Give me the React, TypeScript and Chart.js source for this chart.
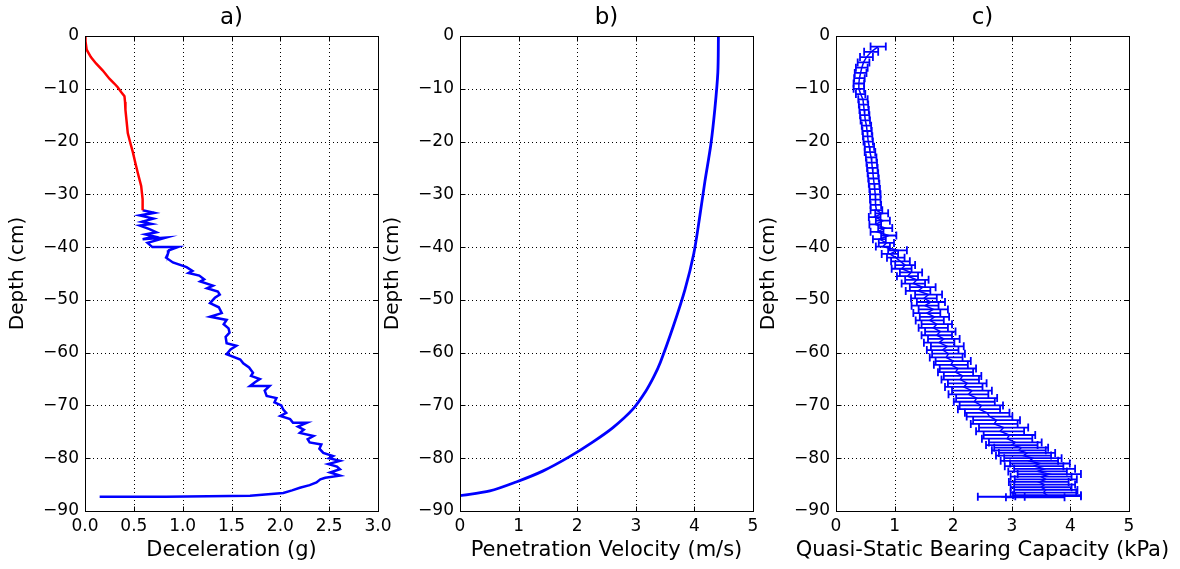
import React, { useEffect, useRef } from 'react';
import { Chart, registerables } from 'chart.js';

Chart.register(...registerables);

const FONT = '"DejaVu Sans", "Liberation Sans", sans-serif';
Chart.defaults.font.family = FONT;

// ---------- Panel a) Deceleration ----------
const aRedDepth = [0, -1, -2.6, -4, -5.2, -6.5, -8.1, -9.0, -9.7, -10.6, -11.4, -12.5, -14, -16, -18.4, -20, -22, -24, -25.9, -28.4, -30.9, -33.0];
const aRedDecel = [0, 0.005, 0.017, 0.06, 0.113, 0.18, 0.25, 0.3, 0.335, 0.37, 0.404, 0.41, 0.414, 0.425, 0.438, 0.46, 0.49, 0.515, 0.54, 0.575, 0.59, 0.59];

const aBlueDepth = [
  -33.0, -33.5, -34.0, -34.6, -35.2, -35.6, -35.9, -36.6, -37.2, -37.6,
  -38.0, -38.5, -38.2, -39.2, -40.0, -40.0, -40.6, -41.2, -42.0, -42.9,
  -43.8, -44.5, -44.9, -45.4, -46.1, -46.5, -47.3, -47.8, -48.4, -49.0,
  -49.6, -50.6, -51.4, -52.5, -53.2, -53.8, -54.6, -55.4, -56.2, -57.0,
  -58.2, -58.7, -59.4, -60.3, -61.3, -62.0, -62.8, -63.8, -64.4, -65.0,
  -65.6, -66.3, -66.3, -67.2, -68.2, -68.6, -69.4, -70.0, -70.8, -71.4,
  -72.0, -72.6, -73.3, -73.3, -74.0, -74.6, -75.2, -75.8, -76.4, -77.0,
  -77.4, -78.2, -79.0, -79.6, -80.0, -80.5, -81.1, -81.6, -82.1, -82.7,
  -83.3, -83.7, -84.0, -84.6, -85.1, -85.6, -86.1, -86.6, -87.1, -87.3,
  -87.3,
];
const aBlueDecel = [
  0.59, 0.71, 0.56, 0.70, 0.58, 0.68, 0.56, 0.66, 0.73, 0.62,
  0.71, 0.59, 0.83, 0.64, 0.69, 0.95, 0.86, 0.85, 0.83, 0.90,
  1.04, 1.10, 1.06, 1.17, 1.22, 1.18, 1.31, 1.25, 1.36, 1.38,
  1.33, 1.28, 1.37, 1.40, 1.28, 1.45, 1.42, 1.47, 1.48, 1.44,
  1.45, 1.55, 1.49, 1.45, 1.59, 1.62, 1.68, 1.72, 1.70, 1.79,
  1.74, 1.69, 1.89, 1.84, 1.86, 1.96, 1.94, 2.01, 2.03, 2.06,
  2.00, 2.10, 2.13, 2.27, 2.18, 2.24, 2.20, 2.34, 2.28, 2.30,
  2.42, 2.40, 2.44, 2.54, 2.50, 2.61, 2.49, 2.58, 2.61, 2.51,
  2.61, 2.46, 2.41, 2.37, 2.30, 2.20, 2.12, 2.03, 1.69, 0.83,
  0.15,
];

// ---------- Panel b) Penetration velocity ----------
const bDepth = [0, -6.9, -13.7, -20.6, -27.5, -34.3, -41.2, -48, -55, -61.8, -64.5, -67.3, -70.7, -74.2, -76.9, -79.7, -82.4, -84.5, -86.2, -87.1];
const bVelocity = [4.41, 4.40, 4.35, 4.28, 4.18, 4.09, 3.99, 3.84, 3.64, 3.42, 3.31, 3.17, 2.95, 2.61, 2.27, 1.87, 1.42, 0.96, 0.51, 0];

// ---------- Panel c) Quasi-static bearing capacity (with x error) ----------
const cDepth = [
  -2, -3, -4, -5, -6, -7, -8, -9, -10, -11, -12, -13, -14, -15, -16, -17, -18, -19, -20, -21,
  -22, -23, -24, -25, -26, -27, -28, -29, -30, -31, -32, -33,
  -33.6, -34.3, -35.0, -35.7, -36.4, -37.1, -37.8, -38.5, -39.2, -39.9,
  -40.6, -41.3, -42.0, -42.7, -43.4, -44.1, -44.8, -45.5, -46.2, -46.9,
  -47.6, -48.3, -49.0, -49.7, -50.4, -51.1, -51.8, -52.5, -53.2, -53.9,
  -54.6, -55.3, -56.0, -56.7, -57.4, -58.1, -58.8, -59.5, -60.2, -60.9,
  -61.6, -62.3, -63.0, -63.7, -64.4, -65.1, -65.8, -66.5, -67.2, -67.9,
  -68.6, -69.3, -70.0, -70.7, -71.4, -72.1, -72.8, -73.5, -74.2, -74.9,
  -75.6, -76.3, -77.0, -77.5, -78.0, -78.5, -79.0, -79.5, -80.0, -80.5,
  -81.0, -81.5, -82.0, -82.5, -83.0, -83.5, -84.0, -84.5, -85.0, -85.5,
  -86.0, -86.5, -87.0, -87.2, -87.3, -87.4,
];
const cBearing = [
  0.72, 0.60, 0.52, 0.47, 0.44, 0.42, 0.40, 0.39, 0.39, 0.42, 0.46, 0.47, 0.48, 0.49, 0.50, 0.52, 0.53, 0.54, 0.55, 0.57,
  0.58, 0.60, 0.61, 0.62, 0.63, 0.64, 0.65, 0.66, 0.67, 0.67, 0.68, 0.69,
  0.78, 0.66, 0.80, 0.67, 0.84, 0.70, 0.90, 0.74, 0.86, 0.80,
  1.05, 0.92, 1.02, 1.10, 1.18, 1.12, 1.28, 1.22, 1.38, 1.32,
  1.48, 1.40, 1.58, 1.50, 1.62, 1.52, 1.66, 1.55, 1.68, 1.60,
  1.72, 1.66, 1.78, 1.72, 1.84, 1.76, 1.90, 1.82, 1.92, 1.88,
  2.00, 1.96, 2.08, 2.04, 2.16, 2.12, 2.24, 2.18, 2.32, 2.26,
  2.40, 2.36, 2.48, 2.44, 2.58, 2.62, 2.74, 2.70, 2.86, 2.80,
  2.96, 2.92, 3.06, 3.00, 3.16, 3.12, 3.26, 3.20, 3.36, 3.30,
  3.48, 3.38, 3.56, 3.44, 3.64, 3.50, 3.58, 3.46, 3.56, 3.50,
  3.58, 3.54, 3.60, 3.62, 2.82, 3.40,
];
const cError = [
  0.13, 0.12, 0.11, 0.10, 0.10, 0.10, 0.09, 0.09, 0.09, 0.08, 0.08, 0.08, 0.08, 0.08, 0.08, 0.08, 0.08, 0.08, 0.08, 0.08,
  0.09, 0.09, 0.09, 0.09, 0.09, 0.09, 0.09, 0.09, 0.09, 0.09, 0.09, 0.10,
  0.11, 0.10, 0.12, 0.10, 0.12, 0.11, 0.13, 0.11, 0.13, 0.12,
  0.16, 0.14, 0.15, 0.16, 0.17, 0.17, 0.19, 0.18, 0.20, 0.20,
  0.22, 0.21, 0.23, 0.22, 0.24, 0.23, 0.25, 0.23, 0.25, 0.24,
  0.26, 0.25, 0.26, 0.26, 0.27, 0.26, 0.28, 0.27, 0.28, 0.28,
  0.30, 0.29, 0.31, 0.30, 0.32, 0.32, 0.33, 0.32, 0.34, 0.34,
  0.35, 0.35, 0.37, 0.36, 0.38, 0.39, 0.40, 0.40, 0.42, 0.41,
  0.44, 0.43, 0.45, 0.44, 0.46, 0.46, 0.48, 0.47, 0.49, 0.49,
  0.51, 0.50, 0.52, 0.50, 0.54, 0.52, 0.53, 0.51, 0.52, 0.52,
  0.54, 0.56, 0.58, 0.56, 0.40, 0.50,
];

const depthTicks = { min: -90, max: 0, step: 10 };

const fmtDepth = (v: number) => (v < 0 ? '\u2212' + Math.abs(v) : String(v));

const toPts = (xs: number[], ys: number[]) => xs.map((x, i) => ({ x, y: ys[i] }));

const mplPlugin = {
  id: 'mpl',
  beforeDatasetsDraw(chart: any) {
    const { ctx, chartArea: a, scales } = chart;
    ctx.save();
    ctx.strokeStyle = '#000';
    ctx.lineWidth = 1;
    ctx.setLineDash([1, 3]);
    scales.x.ticks.forEach((t: any) => {
      const px = Math.round(scales.x.getPixelForValue(t.value)) + 0.5;
      ctx.beginPath();
      ctx.moveTo(px, a.top);
      ctx.lineTo(px, a.bottom);
      ctx.stroke();
    });
    scales.y.ticks.forEach((t: any) => {
      const py = Math.round(scales.y.getPixelForValue(t.value)) + 0.5;
      ctx.beginPath();
      ctx.moveTo(a.left, py);
      ctx.lineTo(a.right, py);
      ctx.stroke();
    });
    ctx.restore();
  },
  afterDatasetsDraw(chart: any, _args: any, opts: any) {
    const { ctx, chartArea: a, scales } = chart;
    // error bars
    chart.data.datasets.forEach((ds: any) => {
      if (!ds.errs) return;
      ctx.save();
      ctx.strokeStyle = ds.borderColor;
      ctx.lineWidth = 1.8;
      ds.data.forEach((p: any, i: number) => {
        const e = ds.errs[i];
        const x1 = scales.x.getPixelForValue(p.x - e);
        const x2 = scales.x.getPixelForValue(p.x + e);
        const y = scales.y.getPixelForValue(p.y);
        ctx.beginPath();
        ctx.moveTo(x1, y);
        ctx.lineTo(x2, y);
        ctx.moveTo(x1, y - 4);
        ctx.lineTo(x1, y + 4);
        ctx.moveTo(x2, y - 4);
        ctx.lineTo(x2, y + 4);
        ctx.stroke();
      });
      ctx.restore();
    });
    // frame and inward ticks
    ctx.save();
    ctx.strokeStyle = '#000';
    ctx.lineWidth = 1;
    const L = Math.round(a.left) + 0.5;
    const R = Math.round(a.right) + 0.5;
    const T = Math.round(a.top) + 0.5;
    const B = Math.round(a.bottom) + 0.5;
    ctx.strokeRect(L, T, R - L, B - T);
    ctx.beginPath();
    scales.x.ticks.forEach((t: any) => {
      const px = Math.round(scales.x.getPixelForValue(t.value)) + 0.5;
      ctx.moveTo(px, B);
      ctx.lineTo(px, B - 5);
      ctx.moveTo(px, T);
      ctx.lineTo(px, T + 5);
    });
    scales.y.ticks.forEach((t: any) => {
      const py = Math.round(scales.y.getPixelForValue(t.value)) + 0.5;
      ctx.moveTo(L, py);
      ctx.lineTo(L + 5, py);
      ctx.moveTo(R, py);
      ctx.lineTo(R - 5, py);
    });
    ctx.stroke();
    // titles
    ctx.fillStyle = '#000';
    ctx.textAlign = 'center';
    ctx.textBaseline = 'middle';
    const cx = (a.left + a.right) / 2;
    const cy = (a.top + a.bottom) / 2;
    ctx.font = `23px ${FONT}`;
    ctx.fillText(opts.title, cx, 18);
    ctx.font = `21px ${FONT}`;
    ctx.fillText(opts.xTitle, cx, 551);
    ctx.font = `20px ${FONT}`;
    ctx.translate(a.left - 67, cy);
    ctx.rotate(-Math.PI / 2);
    ctx.fillText(opts.yTitle, 0, 0);
    ctx.restore();
  },
};

function makeConfig(p: {
  datasets: any[];
  xMin: number;
  xMax: number;
  xStep: number;
  xFmt: (v: number) => string;
  padRight: number;
  title: string;
  xTitle: string;
  yTitle: string;
}): any {
  const tickFont = { size: 17, family: FONT };
  return {
    type: 'scatter',
    data: { datasets: p.datasets },
    plugins: [mplPlugin],
    options: {
      animation: false,
      responsive: false,
      devicePixelRatio: 1,
      layout: { padding: { left: 0, right: p.padRight, top: 36, bottom: 0 } },
      plugins: {
        legend: { display: false },
        tooltip: { enabled: false },
        mpl: { title: p.title, xTitle: p.xTitle, yTitle: p.yTitle },
      },
      scales: {
        x: {
          type: 'linear',
          position: 'bottom',
          min: p.xMin,
          max: p.xMax,
          grid: { display: false, drawTicks: false },
          border: { display: false },
          ticks: {
            stepSize: p.xStep,
            autoSkip: false,
            maxRotation: 0,
            padding: 5,
            color: '#000',
            font: tickFont,
            callback: (v: any) => p.xFmt(Number(v)),
          },
          afterFit: (s: any) => {
            s.height = 58;
          },
        },
        y: {
          type: 'linear',
          position: 'left',
          min: depthTicks.min,
          max: depthTicks.max,
          grid: { display: false, drawTicks: false },
          border: { display: false },
          ticks: {
            stepSize: depthTicks.step,
            autoSkip: false,
            padding: 6,
            color: '#000',
            font: tickFont,
            callback: (v: any) => fmtDepth(Number(v)),
          },
          afterFit: (s: any) => {
            s.width = 84;
          },
        },
      },
    },
  };
}

export default function App() {
  const refA = useRef<HTMLCanvasElement>(null);
  const refB = useRef<HTMLCanvasElement>(null);
  const refC = useRef<HTMLCanvasElement>(null);

  useEffect(() => {
    const charts: Chart[] = [];
    const lineDs = (data: any[], color: string, width: number, extra: any = {}) => ({
      data,
      showLine: true,
      borderColor: color,
      backgroundColor: color,
      borderWidth: width,
      pointRadius: 0,
      pointHoverRadius: 0,
      ...extra,
    });

    charts.push(
      new Chart(
        refA.current!,
        makeConfig({
          datasets: [
            lineDs(toPts(aRedDecel, aRedDepth), '#ff0000', 2.5),
            lineDs(toPts(aBlueDecel, aBlueDepth), '#0000ff', 2.5),
          ],
          xMin: 0,
          xMax: 3,
          xStep: 0.5,
          xFmt: (v) => v.toFixed(1),
          padRight: 20,
          title: 'a)',
          xTitle: 'Deceleration (g)',
          yTitle: 'Depth (cm)',
        })
      )
    );
    charts.push(
      new Chart(
        refB.current!,
        makeConfig({
          datasets: [lineDs(toPts(bVelocity, bDepth), '#0000ff', 2.8, { tension: 0.3 })],
          xMin: 0,
          xMax: 5,
          xStep: 1,
          xFmt: (v) => String(v),
          padRight: 20,
          title: 'b)',
          xTitle: 'Penetration Velocity (m/s)',
          yTitle: 'Depth (cm)',
        })
      )
    );
    charts.push(
      new Chart(
        refC.current!,
        makeConfig({
          datasets: [lineDs(toPts(cBearing, cDepth), '#0000ff', 1.5, { errs: cError })],
          xMin: 0,
          xMax: 5,
          xStep: 1,
          xFmt: (v) => String(v),
          padRight: 51,
          title: 'c)',
          xTitle: 'Quasi-Static Bearing Capacity (kPa)',
          yTitle: 'Depth (cm)',
        })
      )
    );
    return () => charts.forEach((c) => c.destroy());
  }, []);

  const cs = (left: number): React.CSSProperties => ({ position: 'absolute', left, top: 0 });

  return (
    <div
      style={{
        position: 'absolute',
        left: 0,
        top: 0,
        width: 1180,
        height: 569,
        background: '#fff',
        overflow: 'hidden',
      }}
    >
      <canvas ref={refA} width={397} height={569} style={cs(1)} />
      <canvas ref={refB} width={397} height={569} style={cs(376)} />
      <canvas ref={refC} width={428} height={569} style={cs(752)} />
    </div>
  );
}
